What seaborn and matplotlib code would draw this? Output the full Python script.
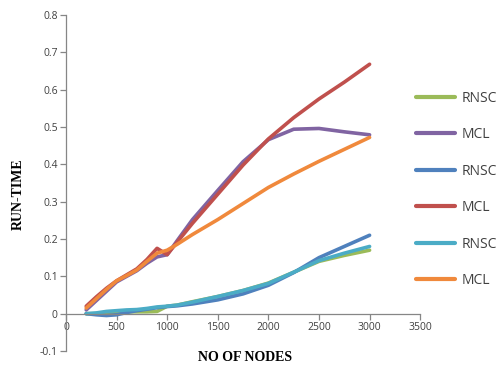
import matplotlib
matplotlib.use("Agg")
import matplotlib.pyplot as plt
import seaborn as sns
import pandas as pd

sns.set_theme(style="white")

# Number of nodes at which run time was measured
nodes = [200, 300, 400, 500, 600, 700, 800, 900, 1000, 1100, 1250, 1500, 1750, 2000, 2250, 2500, 2750, 3000]

# Run times (seconds) per algorithm / dataset
rnsc_1 = [0.0, 0.0, 0.002, 0.004, 0.005, 0.005, 0.005, 0.006, 0.02, 0.023, 0.032, 0.046, 0.062, 0.082, 0.111, 0.14, 0.156, 0.17]
mcl_1 = [0.01, 0.035, 0.06, 0.085, 0.10, 0.115, 0.135, 0.152, 0.158, 0.196, 0.252, 0.33, 0.407, 0.466, 0.494, 0.496, 0.487, 0.479]
rnsc_2 = [0.0, -0.003, -0.005, -0.003, 0.003, 0.008, 0.012, 0.016, 0.019, 0.021, 0.026, 0.037, 0.053, 0.076, 0.11, 0.15, 0.18, 0.21]
mcl_2 = [0.02, 0.045, 0.068, 0.088, 0.104, 0.12, 0.145, 0.175, 0.158, 0.192, 0.242, 0.32, 0.398, 0.468, 0.525, 0.575, 0.62, 0.668]
rnsc_3 = [0.0, 0.002, 0.006, 0.008, 0.01, 0.011, 0.014, 0.018, 0.02, 0.023, 0.031, 0.046, 0.062, 0.081, 0.111, 0.142, 0.162, 0.18]
mcl_3 = [0.015, 0.04, 0.065, 0.088, 0.102, 0.117, 0.14, 0.162, 0.17, 0.186, 0.212, 0.252, 0.295, 0.338, 0.374, 0.408, 0.44, 0.472]

series = [
    ("RNSC", rnsc_1, "#9BBB59"),
    ("MCL", mcl_1, "#8064A2"),
    ("RNSC", rnsc_2, "#4F81BD"),
    ("MCL", mcl_2, "#C0504D"),
    ("RNSC", rnsc_3, "#4BACC6"),
    ("MCL", mcl_3, "#F0893C"),
]

x_ticks = [0, 500, 1000, 1500, 2000, 2500, 3000, 3500]
y_ticks = [-0.1, 0, 0.1, 0.2, 0.3, 0.4, 0.5, 0.6, 0.7, 0.8]

fig = plt.figure(figsize=(5.01, 3.74), dpi=100)
ax = fig.add_axes([0.1317, 0.0615, 0.707, 0.8985])

for label, vals, color in series:
    df = pd.DataFrame({"nodes": nodes, "time": vals})
    sns.lineplot(data=df, x="nodes", y="time", color=color, linewidth=2.6,
                 ax=ax, label=label, solid_capstyle="round",
                 solid_joinstyle="round")

ax.set_xlim(0, 3500)
ax.set_ylim(-0.1, 0.8)
ax.set_xticks(x_ticks)
ax.set_yticks(y_ticks)
ax.set_xticklabels([str(t) for t in x_ticks])
ax.set_yticklabels(["-0.1", "0", "0.1", "0.2", "0.3", "0.4", "0.5", "0.6", "0.7", "0.8"])

for s in ["top", "right"]:
    ax.spines[s].set_visible(False)
ax.spines["bottom"].set_position(("data", 0))
for s in ["left", "bottom"]:
    ax.spines[s].set_color("#868686")
    ax.spines[s].set_linewidth(0.9)

ax.tick_params(axis="both", which="major", direction="out", length=4,
               width=0.9, color="#868686", labelsize=7.5, labelcolor="#404040",
               left=True, bottom=True, pad=2)
for lab in ax.get_xticklabels() + ax.get_yticklabels():
    lab.set_fontfamily("Open Sans")

ax.set_xlabel("")
ax.set_ylabel("")
fig.text(0.49, 0.045, "NO OF NODES", fontfamily="Liberation Serif",
         fontweight="bold", fontsize=10, ha="center", va="center", color="black")
fig.text(0.036, 0.48, "RUN-TIME", fontfamily="Liberation Serif",
         fontweight="bold", fontsize=10, ha="center", va="center",
         rotation=90, color="black")

leg = ax.legend(loc="upper left", bbox_to_anchor=(0.830, 0.758),
                bbox_transform=fig.transFigure, frameon=False,
                prop={"family": "Open Sans", "size": 10},
                handlelength=2.8, handletextpad=0.5, labelspacing=1.55,
                borderaxespad=0, borderpad=0)
for t in leg.get_texts():
    t.set_color("#404040")
for h in leg.legend_handles:
    h.set_linewidth(3)

fig.savefig("out.png", dpi=100)
